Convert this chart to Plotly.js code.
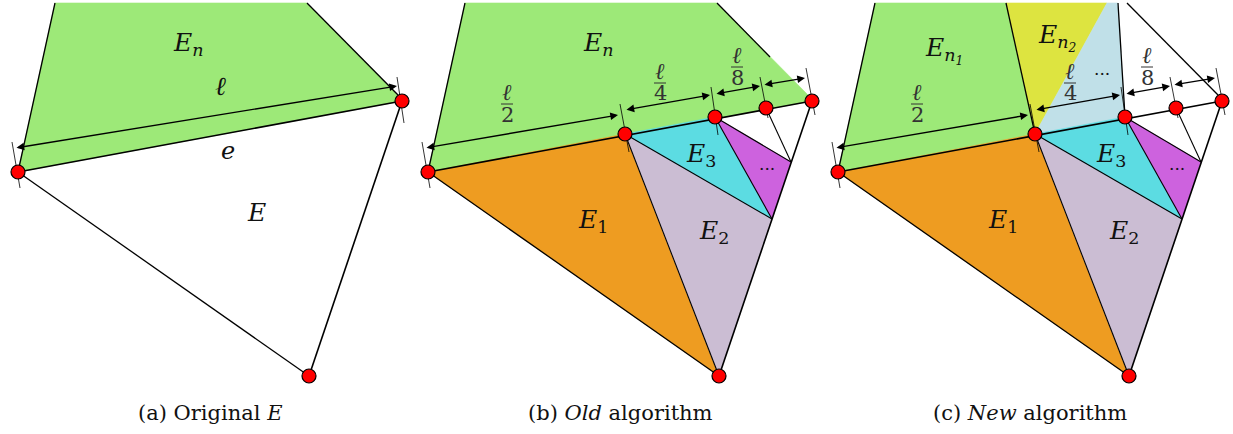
<!DOCTYPE html>
<html>
<head>
<meta charset="utf-8">
<script src="https://cdn.plot.ly/plotly-3.0.1.min.js"></script>
<style>html,body{margin:0;padding:0;background:#fff;}#chart{width:1233px;height:434px;}</style>
</head>
<body>
<div id="chart"></div>
<script>
// ---- geometry (panel-local pixel coordinates) ----
const pointNames = ['A','P1','P2','P3','B','C','R','Q','T1','T2','T3','T4','T5','G','K'];
const pointX     = [18, 215, 305, 356, 402, 309, 362, 381, 55, 186, 287, 298, 307, 398, 360];
const pointY     = [172,134, 117, 108, 101, 376, 219, 162, 3,  3,   3,   3,   3,   95,  57];
const panelOffset = [0, 410, 820];

// region colours
const colGreen = '#9de978', colOrange = '#ee9c21', colLavender = '#cbbdd3',
      colCyan = '#5cdce2', colPurple = '#cd62de', colYellow = '#dde440', colLightBlue = '#c0e0e8';

// polygons per panel
const polyPanel  = [0, 1, 1, 1, 1, 1, 2, 2, 2, 2, 2, 2, 2];
const polyVerts  = [
  ['T1','T5','G','B','A'],
  ['T1','T5','G','B','A'],
  ['A','P1','C'], ['P1','R','C'], ['P1','P2','R'], ['P2','Q','R'],
  ['T1','T2','P1','A'], ['T2','T3','P1'], ['T3','T4','P2','P1'],
  ['A','P1','C'], ['P1','R','C'], ['P1','P2','R'], ['P2','Q','R']
];
const polyColor  = [colGreen, colGreen, colOrange, colLavender, colCyan, colPurple,
                    colGreen, colYellow, colLightBlue, colOrange, colLavender, colCyan, colPurple];

// black edges per panel
const edgePanel = [0,0,0,0,0, 1,1,1,1,1,1,1,1,1,1, 2,2,2,2,2,2,2,2,2,2,2,2];
const edgePath  = [
  ['A','B'], ['A','C'], ['B','C'], ['T1','A'], ['T5','G'],
  ['A','B'], ['A','C'], ['B','C'], ['T1','A'], ['T5','K'], ['P1','C'], ['P1','R'], ['P2','R'], ['P2','Q'], ['P3','Q'],
  ['A','B'], ['A','C'], ['B','C'], ['T1','A'], ['T5','G'], ['T2','P1'], ['T4','P2'], ['P1','C'], ['P1','R'], ['P2','R'], ['P2','Q'], ['P3','Q']
];
const edgeWidth = [1.6,1.3,1.6,1.3,1.3, 1.6,1.3,1.6,1.3,1.3,1.1,1.1,1.1,1.1,1.1, 1.6,1.3,1.6,1.3,1.3,1.3,1.3,1.1,1.1,1.1,1.1,1.1];

// vertices (red dots) per panel
const dotNames = [['A','B','C'], ['A','P1','P2','P3','B','C'], ['A','P1','P2','P3','B','C']];

// dimension tick marks (panel-local)
const tickPanel = [0,0, 1,1,1,1,1, 2,2,2,2,2];
const tickX0 = [12,397, 12,210,301,350,396, 12,210,301,350,396];
const tickY0 = [142,77, 142,104,87,77,68, 142,104,87,77,68];
const tickX1 = [20,404, 20,219,308,358,405, 20,219,308,358,405];
const tickY1 = [188,123, 188,152,135,118,115, 188,152,135,118,115];

// double arrows (panel-local): start -> end
const arrowPanel = [0, 1,1,1,1, 2,2,2,2];
const arrowX0 = [15, 15,215,305,353, 15,215,305,353];
const arrowY0 = [148, 148,110,94,85, 148,110,94,85];
const arrowX1 = [397, 208,300,350,395, 208,300,350,395];
const arrowY1 = [86, 115,95,86,78, 115,95,86,78];

// text labels (absolute)
const labelText = ['<i>E<sub>n</sub></i>', '<i>ℓ</i>', '<i>e</i>', '<i>E</i>',
  '<i>E<sub>n</sub></i>', '<i>E</i><sub>3</sub>', '...', '<i>E</i><sub>1</sub>', '<i>E</i><sub>2</sub>',
  '<i>E<sub>n<sub>1</sub></sub></i>', '<i>E<sub>n<sub>2</sub></sub></i>', '...', '<i>E</i><sub>3</sub>', '...', '<i>E</i><sub>1</sub>', '<i>E</i><sub>2</sub>'];
const labelX = [188, 220, 228, 256, 598, 701, 767, 593, 714, 944, 1057, 1102, 1111, 1177, 1003, 1124];
const labelY = [44, 86, 151, 212, 44, 155, 164, 221, 232, 50, 37, 69, 155, 164, 221, 232];
const labelSize = [25, 26, 24, 25, 25, 25, 17, 25, 25, 25, 25, 17, 25, 17, 25, 25];

// fractions ℓ/2, ℓ/4, ℓ/8 (panel-local) for panels b and c
const fracDen = ['2','4','8'];
const fracX   = [97, 250, 327];
const fracNumY = [92, 71, 55];
const fracBarY = [104, 83, 67];
const fracDenY = [115, 93, 78];

// captions
const captionText = ['(a) Original <i>E</i>', '(b) <i>Old</i> algorithm', '(c) <i>New</i> algorithm'];
const captionX = [210, 620, 1030];
const captionY = 413;

// ---- build ----
function px(name, panel){ return pointX[pointNames.indexOf(name)] + panelOffset[panel]; }
function py(name){ return pointY[pointNames.indexOf(name)]; }

const traces = [];
polyVerts.forEach((vs, i) => {
  const p = polyPanel[i];
  traces.push({type:'scatter', mode:'lines', fill:'toself', fillcolor: polyColor[i],
    x: vs.map(v=>px(v,p)).concat([px(vs[0],p)]), y: vs.map(v=>py(v)).concat([py(vs[0])]),
    line:{color: polyColor[i], width:0.6}, hoverinfo:'skip', showlegend:false});
});
edgePath.forEach((ps, i) => {
  const p = edgePanel[i];
  traces.push({type:'scatter', mode:'lines', x: ps.map(v=>px(v,p)), y: ps.map(v=>py(v)),
    line:{color:'#000', width: edgeWidth[i]}, hoverinfo:'skip', showlegend:false});
});
tickPanel.forEach((p, i) => {
  traces.push({type:'scatter', mode:'lines', x:[tickX0[i]+panelOffset[p], tickX1[i]+panelOffset[p]], y:[tickY0[i], tickY1[i]],
    line:{color:'#000', width:0.8}, hoverinfo:'skip', showlegend:false});
});
dotNames.forEach((ns, p) => {
  traces.push({type:'scatter', mode:'markers', x: ns.map(v=>px(v,p)), y: ns.map(v=>py(v)),
    marker:{size:14, color:'#ff0000', line:{color:'#000', width:1.2}}, hoverinfo:'skip', showlegend:false});
});
// fraction bars
[1,2].forEach(p => {
  fracX.forEach((fx, i) => {
    traces.push({type:'scatter', mode:'lines', x:[fx-6+panelOffset[p], fx+6+panelOffset[p]], y:[fracBarY[i], fracBarY[i]],
      line:{color:'#333', width:1}, hoverinfo:'skip', showlegend:false});
  });
});

const font = 'DejaVu Serif';
const annotations = [];
arrowPanel.forEach((p, i) => {
  annotations.push({xref:'x', yref:'y', axref:'x', ayref:'y',
    x: arrowX1[i]+panelOffset[p], y: arrowY1[i], ax: arrowX0[i]+panelOffset[p], ay: arrowY0[i],
    text:'', showarrow:true, arrowhead:2, startarrowhead:2, arrowside:'end+start',
    arrowsize:1.1, startarrowsize:1.1, arrowwidth:1.4, arrowcolor:'#000', standoff:0, startstandoff:0,
    font:{size:1}});
});
labelText.forEach((t, i) => {
  annotations.push({xref:'x', yref:'y', x: labelX[i], y: labelY[i], text: t, showarrow:false,
    xanchor:'center', yanchor:'middle', font:{family: font, size: labelSize[i], color:'#111'}});
});
[1,2].forEach(p => {
  fracX.forEach((fx, i) => {
    annotations.push({xref:'x', yref:'y', x: fx+panelOffset[p], y: fracNumY[i], text:'<i>ℓ</i>', showarrow:false,
      font:{family: font, size:23, color:'#333'}});
    annotations.push({xref:'x', yref:'y', x: fx+panelOffset[p], y: fracDenY[i], text: fracDen[i], showarrow:false,
      font:{family: font, size:21, color:'#333'}});
  });
});
captionText.forEach((t, i) => {
  annotations.push({xref:'x', yref:'y', x: captionX[i], y: captionY, text: t, showarrow:false,
    font:{family: font, size:21, color:'#111'}});
});

const layout = {
  width:1233, height:434, margin:{l:0,r:0,t:0,b:0},
  paper_bgcolor:'#fff', plot_bgcolor:'#fff', showlegend:false,
  font:{family: font},
  xaxis:{range:[0,1233], visible:false, fixedrange:true},
  yaxis:{range:[434,0], visible:false, fixedrange:true},
  annotations: annotations
};
Plotly.newPlot('chart', traces, layout, {staticPlot:true, displayModeBar:false});
</script>
</body>
</html>
